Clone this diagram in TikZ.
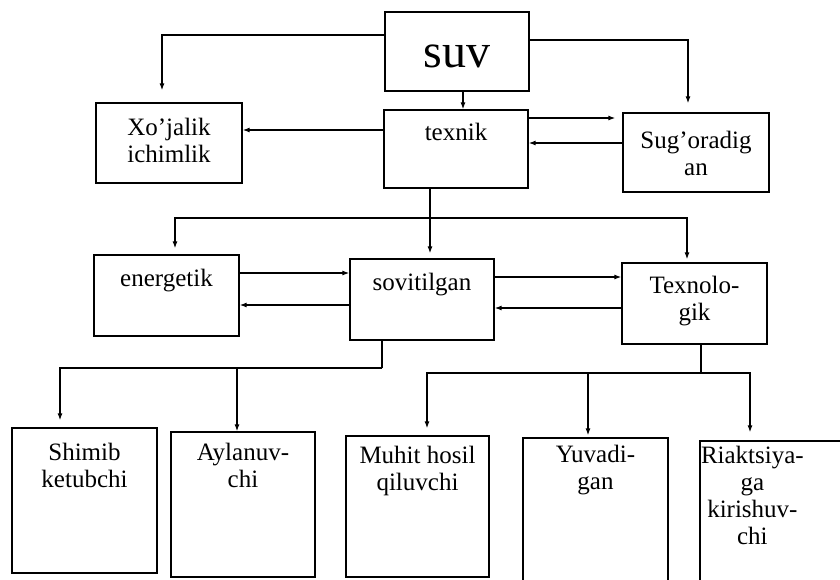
\documentclass[tikz,border=0pt]{standalone}
\usepackage{fontspec}
\setmainfont{Liberation Serif}
\usetikzlibrary{arrows.meta}
\newcommand{\bxt}[4]{\parbox[t][#2][t]{#1}{\centering\rule{0pt}{#3}#4}}
\begin{document}
\begin{tikzpicture}[x=1pt,y=-1pt,
  box/.style={draw, line width=1.3pt, inner sep=0pt, font=\fontsize{25}{27}\selectfont},
  lnk/.style={line width=1.2pt},
  arr/.style={line width=1.2pt, -{Latex[length=7pt,width=5pt]}}]
\useasboundingbox (0,0) rectangle (840,579);
\clip (0,0) rectangle (840,579);
\fill[white] (0,0) rectangle (840,579);

\node[box] (suv) at (457,51.5) {\bxt{144pt}{79pt}{55pt}{\fontsize{48}{50}\selectfont suv}};
\node[box] (xoj) at (169,143) {\bxt{146pt}{80pt}{32pt}{Xo’jalik\\ichimlik}};
\node[box] (tex) at (456,149) {\bxt{144pt}{78pt}{30pt}{texnik}};
\node[box] (sug) at (696,152.5) {\bxt{146pt}{79pt}{35pt}{Sug’oradig\\an}};
\node[box] (ene) at (166.5,295.5) {\bxt{145pt}{81pt}{31pt}{energetik}};
\node[box] (sov) at (422,299.5) {\bxt{144pt}{81pt}{31pt}{sovitilgan}};
\node[box] (tno) at (694.5,303.5) {\bxt{145pt}{81pt}{30pt}{Texnolo-\\gik}};
\node[box] (shi) at (84.5,500.5) {\bxt{145pt}{145pt}{32pt}{Shimib\\ketubchi}};
\node[box] (ayl) at (243,504.5) {\bxt{144pt}{145pt}{28pt}{Aylanuv-\\chi}};
\node[box] (muh) at (417.5,506.5) {\bxt{143pt}{141pt}{27pt}{Muhit hosil\\qiluvchi}};
\node[box] (yuv) at (595.5,514) {\bxt{145pt}{152pt}{24pt}{Yuvadi-\\gan}};
\node[box] (ria) at (775,515.5) {\parbox[t][149pt][t]{150pt}{\rule{0pt}{22pt}\hspace*{1pt}\begin{tabular}[t]{@{}c@{}}Riaktsiya-\\ga\\kirishuv-\\chi\end{tabular}}};

% from suv
\draw[arr,shorten >=12pt] ([yshift=16.5pt]suv.west) -| ([xshift=-7pt]xoj.north);
\draw[arr,shorten >=9pt] ([yshift=11.5pt]suv.east) -| ([xshift=-8pt]sug.north);
\draw[arr] ([xshift=6pt]suv.south) -- ([xshift=6pt]suv.south |- tex.north);

% texnik links
\draw[arr] ([yshift=19pt]tex.west) -- ([yshift=19pt]tex.west -| xoj.east);
\draw[arr,shorten >=7pt] ([yshift=31pt]tex.east) -- ([yshift=31pt]tex.east -| sug.west);
\draw[arr] ([yshift=9.5pt]sug.west) -- ([yshift=9.5pt]sug.west -| tex.east);

% texnik branch
\coordinate (j1) at (430,218);
\draw[lnk] (j1 |- tex.south) -- (j1);
\draw[arr,shorten >=5pt] (j1) -- (j1 |- sov.north);
\draw[arr,shorten >=6pt] (j1) -| ([xshift=8.5pt]ene.north);
\draw[arr,shorten >=3pt] (j1) -| ([xshift=-7.5pt]tno.north);

% middle row links
\draw[arr] ([yshift=22.5pt]ene.east) -- ([yshift=22.5pt]ene.east -| sov.west);
\draw[arr] ([yshift=-5.5pt]sov.west) -- ([yshift=-5.5pt]sov.west -| ene.east);
\draw[arr] ([yshift=22.5pt]sov.east) -- ([yshift=22.5pt]sov.east -| tno.west);
\draw[arr] ([yshift=-4.5pt]tno.west) -- ([yshift=-4.5pt]tno.west -| sov.east);

% sovitilgan branch
\coordinate (j2) at (382,368);
\draw[lnk] (j2 |- sov.south) -- (j2);
\draw[arr,shorten >=7pt] (j2) -| ([xshift=-24.5pt]shi.north);
\draw[arr] (j2) -| ([xshift=-6pt]ayl.north);

% texnologik branch
\coordinate (j3) at (701,373);
\draw[lnk] (j3 |- tno.south) -- (j3);
\draw[arr,shorten >=7pt] (j3) -| ([xshift=9.5pt]muh.north);
\draw[arr,shorten >=2pt] (j3) -| ([xshift=-7.5pt]yuv.north);
\draw[arr,shorten >=8pt] (j3) -| ([xshift=-25pt]ria.north);
\end{tikzpicture}
\end{document}
